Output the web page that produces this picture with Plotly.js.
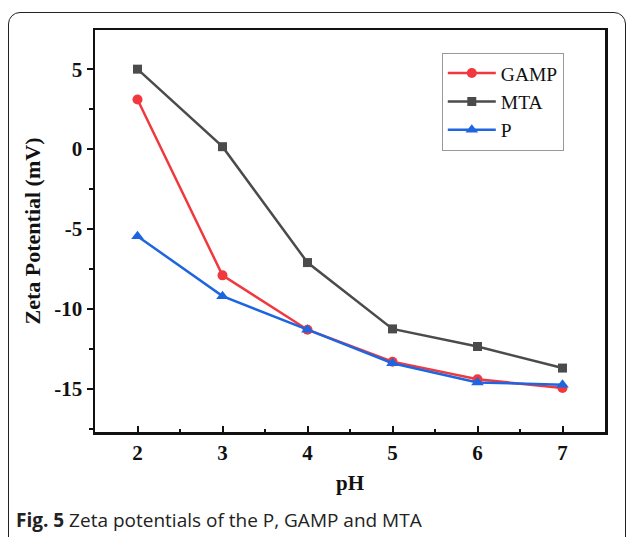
<!DOCTYPE html>
<html>
<head>
<meta charset="utf-8">
<script src="https://cdn.plot.ly/plotly-3.0.1.min.js"></script>
<style>
  html, body { margin: 0; padding: 0; background: #fff; }
  #wrap { position: relative; width: 630px; height: 537px; overflow: hidden; }
  #chart { width: 630px; height: 537px; }
  #frame { position: absolute; left: 8px; top: 12px; width: 618px; height: 560px;
           border: 1.5px solid #222; border-radius: 12px; pointer-events: none; box-sizing: border-box; }
</style>
</head>
<body>
<div id="wrap">
  <div id="chart"></div>
  <div id="frame"></div>
</div>
<script>
const pH = [2, 3, 4, 5, 6, 7];
const gampValues = [3.1, -7.9, -11.3, -13.3, -14.4, -14.95];
const mtaValues = [5.0, 0.15, -7.1, -11.25, -12.35, -13.7];
const pValues = [-5.45, -9.2, -11.3, -13.4, -14.6, -14.75];
const seriesNames = ['GAMP', 'MTA', 'P'];
const xTicks = [2, 3, 4, 5, 6, 7];
const yTicks = [-15, -10, -5, 0, 5];

const serif = 'Liberation Serif, Times New Roman, serif';

const traces = [
  { x: pH, y: gampValues, name: seriesNames[0], mode: 'lines+markers',
    line: { color: '#f2383f', width: 2.5 }, marker: { symbol: 'circle', size: 10, color: '#f2383f' } },
  { x: pH, y: mtaValues, name: seriesNames[1], mode: 'lines+markers',
    line: { color: '#4b4b4b', width: 2.5 }, marker: { symbol: 'square', size: 9, color: '#4b4b4b' } },
  { x: pH, y: pValues, name: seriesNames[2], mode: 'lines+markers',
    line: { color: '#1d66e0', width: 2.5 }, marker: { symbol: 'triangle-up', size: 11, color: '#1d66e0' } }
];

const layout = {
  width: 630, height: 537,
  margin: { l: 95, r: 25, t: 30, b: 105 },
  paper_bgcolor: '#ffffff', plot_bgcolor: '#ffffff',
  showlegend: true,
  legend: {
    x: 0.68, y: 0.943, xanchor: 'left', yanchor: 'top',
    bordercolor: '#999', borderwidth: 1, bgcolor: '#fff',
    font: { family: serif, size: 19.5, color: '#111' },
    itemwidth: 48,
    tracegroupgap: 0
  },
  xaxis: {
    range: [1.5, 7.5], tickvals: xTicks, ticktext: xTicks.map(v => '<b>' + v + '</b>'),
    ticks: 'inside', ticklen: 6, tickwidth: 2, tickcolor: '#111',
    showline: true, linecolor: '#111', linewidth: 2.5, mirror: true,
    showgrid: false, zeroline: false,
    minor: { dtick: 0.5, ticks: 'inside', ticklen: 3, tickwidth: 2, tickcolor: '#111', showgrid: false },
    tickfont: { family: serif, size: 21, color: '#111', weight: 'bold' },
    title: { text: '<b>pH</b>', font: { family: serif, size: 21, color: '#111' }, standoff: 12 }
  },
  yaxis: {
    range: [-17.7, 7.45], tickvals: yTicks, ticktext: yTicks.map(v => '<b>' + v + '</b>'),
    ticks: 'outside', ticklen: 6, tickwidth: 2, tickcolor: '#111',
    showline: true, linecolor: '#111', linewidth: 2.5, mirror: true,
    showgrid: false, zeroline: false,
    minor: { dtick: 2.5, ticks: 'outside', ticklen: 4, tickwidth: 2, tickcolor: '#111', showgrid: false },
    tickfont: { family: serif, size: 21, color: '#111', weight: 'bold' },
    title: { text: '<b>Zeta Potential (mV)</b>', font: { family: serif, size: 22, color: '#111' }, standoff: 8 }
  },
  annotations: [{
    xref: 'paper', yref: 'paper', x: -0.158, y: -0.22, xanchor: 'left', yanchor: 'middle',
    text: '<b>Fig. 5</b> Zeta potentials of the P, GAMP and MTA', showarrow: false,
    font: { family: 'Open Sans, sans-serif', size: 19, color: '#222' }
  }]
};

Plotly.newPlot('chart', traces, layout, { staticPlot: true, displayModeBar: false });
</script>
</body>
</html>
